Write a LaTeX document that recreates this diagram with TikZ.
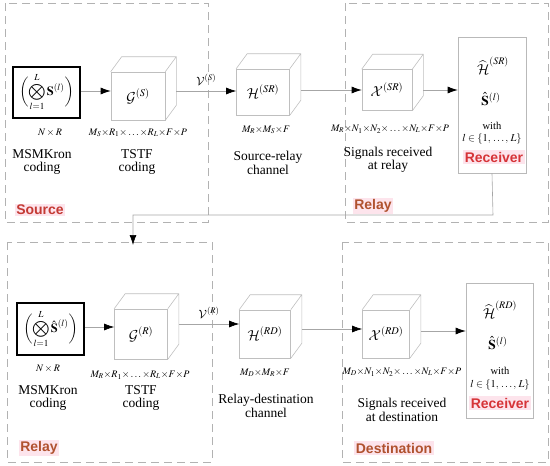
\documentclass[tikz,border=0pt]{standalone}
\usepackage{amsmath}
\usepackage{mathptmx}
\DeclareMathAlphabet{\mathcal}{OMS}{cmsy}{m}{n}
\SetMathAlphabet{\mathcal}{bold}{OMS}{cmsy}{b}{n}
\usepackage{bm}
\usepackage[no-math]{fontspec}
\setmainfont{Liberation Serif}
\newfontfamily\lblfont{Liberation Sans}
\usetikzlibrary{arrows.meta}
\definecolor{srcred}{RGB}{196,58,52}
\definecolor{relbrown}{RGB}{176,82,47}
\definecolor{recred}{RGB}{214,52,56}
\definecolor{lblbg}{RGB}{253,228,236}
\newcommand\drawcube[1]{%
  \draw[cubeline] (#1.north west) -- ([shift={(11,-15)}]#1.north west)
    -- ([shift={(11,-15)}]#1.north east) -- ([shift={(11,-15)}]#1.south east)
    -- (#1.south east) (#1.north east) -- ([shift={(11,-15)}]#1.north east);}
\begin{document}
\begin{tikzpicture}[x=1pt,y=-1pt,
  cubeline/.style={draw=gray!50, line width=0.6pt},
  cube/.style={cubeline, inner sep=0pt, font=\fontsize{14}{15}\selectfont},
  region/.style={draw=gray!60, dash pattern=on 8pt off 5pt, line width=0.7pt},
  conn/.style={draw=gray!70, line width=0.6pt},
  arr/.style={conn, -{Latex[length=10pt,width=7pt,black]}},
  kron/.style={draw=black, line width=1.8pt, inner sep=0pt, font=\fontsize{12.5}{14}\selectfont},
  recv/.style={draw=gray!55, line width=0.6pt, inner sep=0pt},
  dimtxt/.style={inner sep=0pt, font=\fontsize{10}{11}\selectfont},
  captxt/.style={inner sep=0pt, align=center, font=\fontsize{13.5}{13.5}\selectfont},
  rtxt/.style={inner sep=0pt, font=\fontsize{10.5}{12}\selectfont},
  rmath/.style={inner sep=0pt, font=\fontsize{13.5}{14}\selectfont},
  vlbl/.style={inner sep=0pt, font=\fontsize{11.5}{12}\selectfont},
  tag/.style={inner sep=1.5pt, fill=lblbg, font=\lblfont\bfseries\fontsize{14}{16}\selectfont},
]
\useasboundingbox (0,0) rectangle (550,466);
% regions
\draw[region] (5,3) rectangle (208,222);
\draw[region] (345,3) rectangle (548,222);
\draw[region] (7,242) rectangle (212,462);
\draw[region] (342,242) rectangle (548,462);

% ---------- top row ----------
\node[kron, minimum width=67pt, minimum height=51pt] (kS) at (46.5,92.5)
  {$\displaystyle\biggl(\bigotimes_{l=1}^{L}\mathbf{S}^{(l)}\biggr)$};
\node[cube, minimum width=54pt, minimum height=48pt] (gS) at (138,96) {$\bm{\mathcal{G}}^{(S)}$};
\drawcube{gS}
\node[cube, minimum width=53pt, minimum height=46pt] (hSR) at (263,92) {$\bm{\mathcal{H}}^{(SR)}$};
\drawcube{hSR}
\node[cube, minimum width=50pt, minimum height=41pt] (xSR) at (387,90) {$\bm{\mathcal{X}}^{(SR)}$};
\drawcube{xSR}
\node[recv, minimum width=68pt, minimum height=136pt] (rS) at (492,105) {};
\node[rmath] (rSh) at (493,66) {$\widehat{\bm{\mathcal{H}}}^{(SR)}$};
\node[rmath] (rSs) at (491,99) {$\hat{\mathbf{S}}^{(l)}$};
\node[rtxt] (rSw) at (492,126) {with};
\node[rtxt] (rSl) at (492,139) {$l\in\{1,\,\ldots,\,L\}$};
\node[tag, text=recred] (rSt) at (494,157) {Receiver};

\draw[arr] (kS.east |- 0,91) -- (gS.west |- 0,91);
\draw[arr] ([xshift=11pt]gS.east |- 0,91) -- (hSR.west |- 0,91)
  node[vlbl, midway, above=5pt] (vS) {$\bm{\mathcal{V}}^{(S)}$};
\draw[arr] ([xshift=11pt]hSR.east |- 0,90) -- (xSR.west |- 0,90);
\draw[arr] ([xshift=11pt]xSR.east |- 0,90) -- (rS.west |- 0,90);

\node[dimtxt] (dkS) at (50,133) {$N\times R$};
\node[captxt] (ckS) at (42,162) {MSMKron\\coding};
\node[dimtxt] (dgS) at (138,133) {$M_S{\times}R_1{\times}\ldots{\times}R_L{\times}F{\times}P$};
\node[captxt] (cgS) at (137,162) {TSTF\\coding};
\node[dimtxt] (dhSR) at (266,130) {$M_R{\times}M_S{\times}F$};
\node[captxt] (chSR) at (268,163) {Source-relay\\channel};
\node[dimtxt] (dxSR) at (390,129) {$M_R{\times}N_1{\times}N_2{\times}\ldots{\times}N_L{\times}F{\times}P$};
\node[captxt] (cxSR) at (388,160) {Signals received\\at relay};

\node[tag, text=srcred] (tSrc) at (40,210) {Source};
\node[tag, text=relbrown] (tRel1) at (373,206) {Relay};

% feedback connector
\coordinate (fb1) at (493,215);
\coordinate (fb2) at (133,215);
\coordinate (fbend) at (133,245);
\draw[arr] (rS.south) -- (fb1) -- (fb2) -- (fbend);

% ---------- bottom row ----------
\node[kron, minimum width=67pt, minimum height=52pt] (kR) at (50.5,329)
  {$\displaystyle\biggl(\bigotimes_{l=1}^{L}\hat{\mathbf{S}}^{(l)}\biggr)$};
\node[cube, minimum width=53pt, minimum height=50pt] (gR) at (141,334) {$\bm{\mathcal{G}}^{(R)}$};
\drawcube{gR}
\node[cube, minimum width=51pt, minimum height=48pt] (hRD) at (265,334) {$\bm{\mathcal{H}}^{(RD)}$};
\drawcube{hRD}
\node[cube, minimum width=47pt, minimum height=48pt] (xRD) at (386,334) {$\bm{\mathcal{X}}^{(RD)}$};
\drawcube{xRD}
\node[recv, minimum width=67pt, minimum height=135pt] (rR) at (499.5,350.5) {};
\node[rmath] (rRh) at (500,310) {$\widehat{\bm{\mathcal{H}}}^{(RD)}$};
\node[rmath] (rRs) at (498,343) {$\hat{\mathbf{S}}^{(l)}$};
\node[rtxt] (rRw) at (500,371) {with};
\node[rtxt] (rRl) at (500,385) {$l\in\{1,\,\ldots,\,L\}$};
\node[tag, text=recred] (rRt) at (500,403) {Receiver};

\draw[arr] (kR.east |- 0,327) -- (gR.west |- 0,327);
\draw[arr] ([xshift=11pt]gR.east |- 0,324) -- (hRD.west |- 0,324)
  node[vlbl, midway, above=5pt] (vR) {$\bm{\mathcal{V}}^{(R)}$};
\draw[arr] ([xshift=11pt]hRD.east |- 0,329) -- (xRD.west |- 0,329);
\draw[arr] ([xshift=11pt]xRD.east |- 0,331) -- (rR.west |- 0,331);

\node[dimtxt] (dkR) at (48,369) {$N\times R$};
\node[captxt] (ckR) at (48,398) {MSMKron\\coding};
\node[dimtxt] (dgR) at (140,375) {$M_R{\times}R_1{\times}\ldots{\times}R_L{\times}F{\times}P$};
\node[captxt] (cgR) at (141,398) {TSTF\\coding};
\node[dimtxt] (dhRD) at (265,373) {$M_D{\times}M_R{\times}F$};
\node[captxt] (chRD) at (266,406) {Relay-destination\\channel};
\node[dimtxt] (dxRD) at (402,372) {$M_D{\times}N_1{\times}N_2{\times}\ldots{\times}N_L{\times}F{\times}P$};
\node[captxt] (cxRD) at (402,410) {Signals received\\at destination};

\node[tag, text=relbrown] (tRel2) at (39,448) {Relay};
\node[tag, text=relbrown] (tDst) at (394,448) {Destination};
\end{tikzpicture}
\end{document}
